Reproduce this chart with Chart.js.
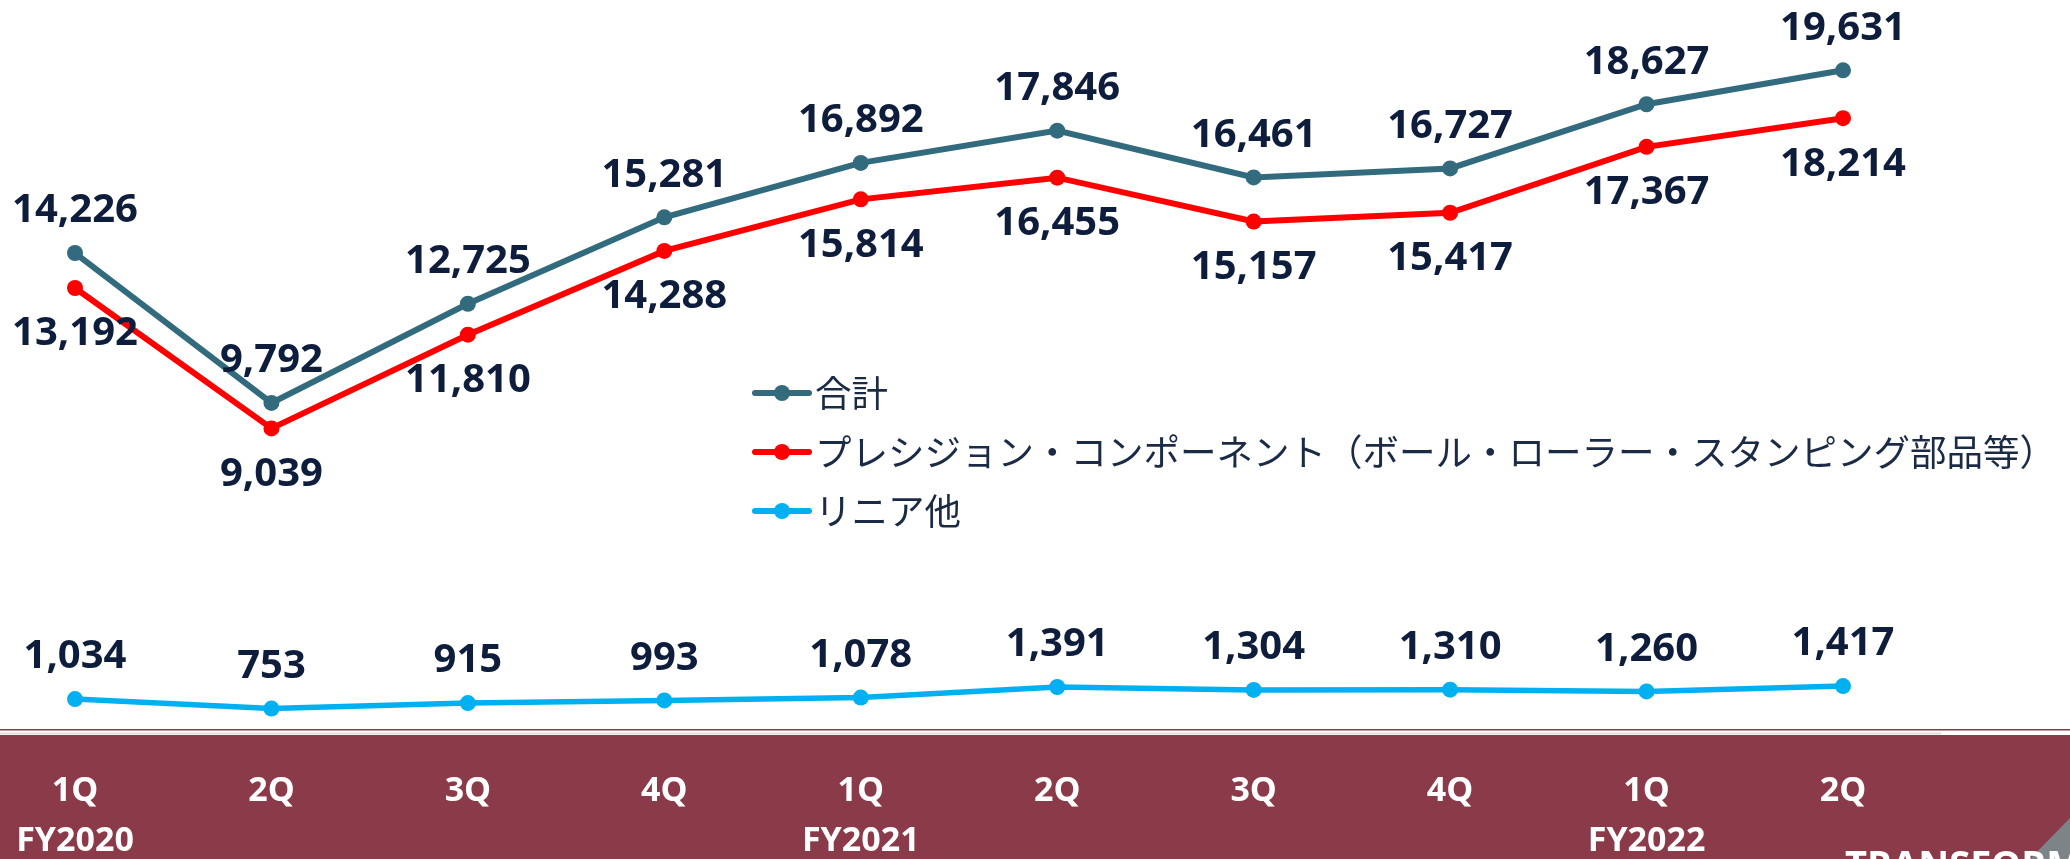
<!DOCTYPE html>
<html lang="ja">
<head>
<meta charset="utf-8">
<title>売上高推移</title>
<script src="https://cdn.jsdelivr.net/npm/chart.js@4.4.1/dist/chart.umd.min.js"></script>
<style>
    html, body { margin: 0; padding: 0; background: #ffffff; overflow: hidden; }
    #chart { display: block; }
</style>
</head>
<body>
<canvas id="chart" width="2070" height="859"></canvas>
<script>
// ============================================================================
// DATA
// ============================================================================
const quarters = [
    ['1Q', 'FY2020'], ['2Q'], ['3Q'], ['4Q'],
    ['1Q', 'FY2021'], ['2Q'], ['3Q'], ['4Q'],
    ['1Q', 'FY2022'], ['2Q']
];
const totalValues = [14226, 9792, 12725, 15281, 16892, 17846, 16461, 16727, 18627, 19631];
const precisionValues = [13192, 9039, 11810, 14288, 15814, 16455, 15157, 15417, 17367, 18214];
const linearValues = [1034, 753, 915, 993, 1078, 1391, 1304, 1310, 1260, 1417];

const seriesLabels = [
    '合計',
    'プレシジョン・コンポーネント（ボール・ローラー・スタンピング部品等）',
    'リニア他'
];
const seriesColors = ['#336b7e', '#ff0000', '#00b0f0'];
// where each series puts its value labels
const labelSides = ['above', 'below', 'above'];

const LABEL_COLOR = '#0d1d3b';
const BAND_COLOR = '#8a3a48';

// ============================================================================
// PLUGINS
// ============================================================================

// maroon footer band behind the quarter labels
const bandPlugin = {
    id: 'band',
    beforeDraw(chart) {
        const { ctx, width, height } = chart;
        ctx.save();
        ctx.fillStyle = '#ffffff';
        ctx.fillRect(0, 0, width, height);
        ctx.fillStyle = BAND_COLOR;
        ctx.fillRect(0, 735, width, height - 735);
        ctx.fillRect(0, 729, width, 1.5);
        ctx.fillStyle = '#e4dcdd';
        ctx.fillRect(0, 732.5, 1941, 2);
        // corner of the logo picture
        ctx.fillStyle = '#7d8488';
        ctx.beginPath();
        ctx.moveTo(2030, height);
        ctx.lineTo(width, 818);
        ctx.lineTo(width, height);
        ctx.closePath();
        ctx.fill();
        ctx.fillStyle = '#ffffff';
        ctx.font = 'bold 38px "Open Sans"';
        ctx.textBaseline = 'alphabetic';
        ctx.fillText('TRANSFORM', 1845, 878);
        ctx.restore();
    }
};

// value labels above / below the points
const valueLabelPlugin = {
    id: 'valueLabels',
    afterDatasetsDraw(chart) {
        const { ctx } = chart;
        ctx.save();
        ctx.font = 'bold 40px "Open Sans"';
        ctx.fillStyle = LABEL_COLOR;
        ctx.textAlign = 'center';
        ctx.textBaseline = 'middle';
        chart.data.datasets.forEach((ds, i) => {
            const meta = chart.getDatasetMeta(i);
            meta.data.forEach((pt, j) => {
                const dy = labelSides[i] === 'above' ? -42 : 46;
                ctx.fillText(ds.data[j].toLocaleString('en-US'), pt.x, pt.y + dy);
            });
        });
        ctx.restore();
    }
};

// legend stacked in the middle of the plot
const sideLegendPlugin = {
    id: 'sideLegend',
    afterDraw(chart) {
        const { ctx } = chart;
        const x0 = 755;
        const rows = [393, 452, 511];
        ctx.save();
        chart.data.datasets.forEach((ds, i) => {
            const y = rows[i];
            ctx.strokeStyle = ds.borderColor;
            ctx.lineWidth = 6;
            ctx.lineCap = 'round';
            ctx.beginPath();
            ctx.moveTo(x0, y);
            ctx.lineTo(x0 + 54, y);
            ctx.stroke();
            ctx.fillStyle = ds.borderColor;
            ctx.beginPath();
            ctx.arc(x0 + 27, y, 8, 0, Math.PI * 2);
            ctx.fill();
            ctx.fillStyle = '#1b2a45';
            ctx.font = '36.5px "Noto Sans CJK JP"';
            ctx.textAlign = 'left';
            ctx.textBaseline = 'middle';
            ctx.fillText(ds.label, x0 + 60, y);
        });
        ctx.restore();
    }
};

// ============================================================================
// CHART
// ============================================================================
function makeDataset(label, values, color, width) {
    return {
        label: label,
        data: values,
        borderColor: color,
        backgroundColor: color,
        borderWidth: width,
        pointRadius: 8,
        pointBorderWidth: 0,
        pointBackgroundColor: color,
        fill: false,
        tension: 0
    };
}

const chart = new Chart(document.getElementById('chart').getContext('2d'), {
    type: 'line',
    data: {
        labels: quarters,
        datasets: [
            makeDataset(seriesLabels[0], totalValues, seriesColors[0], 6),
            makeDataset(seriesLabels[1], precisionValues, seriesColors[1], 6),
            makeDataset(seriesLabels[2], linearValues, seriesColors[2], 5.5)
        ]
    },
    options: {
        responsive: false,
        animation: false,
        layout: {
            padding: { left: 75, right: 227, top: 24, bottom: 0 }
        },
        plugins: {
            legend: { display: false },
            tooltip: { enabled: false }
        },
        scales: {
            x: {
                offset: false,
                border: { display: false },
                grid: { display: false, drawTicks: false },
                ticks: {
                    color: '#ffffff',
                    padding: 32,
                    maxRotation: 0,
                    autoSkip: false,
                    font: { family: '"Open Sans"', size: 34, weight: 'bold', lineHeight: 1.47 }
                },
                afterFit(scale) {
                    scale.height = 125;
                    scale.paddingLeft = 0;
                    scale.paddingRight = 0;
                }
            },
            y: {
                display: false,
                min: 0,
                max: 21000
            }
        }
    },
    plugins: [bandPlugin, valueLabelPlugin, sideLegendPlugin]
});
</script>
</body>
</html>
